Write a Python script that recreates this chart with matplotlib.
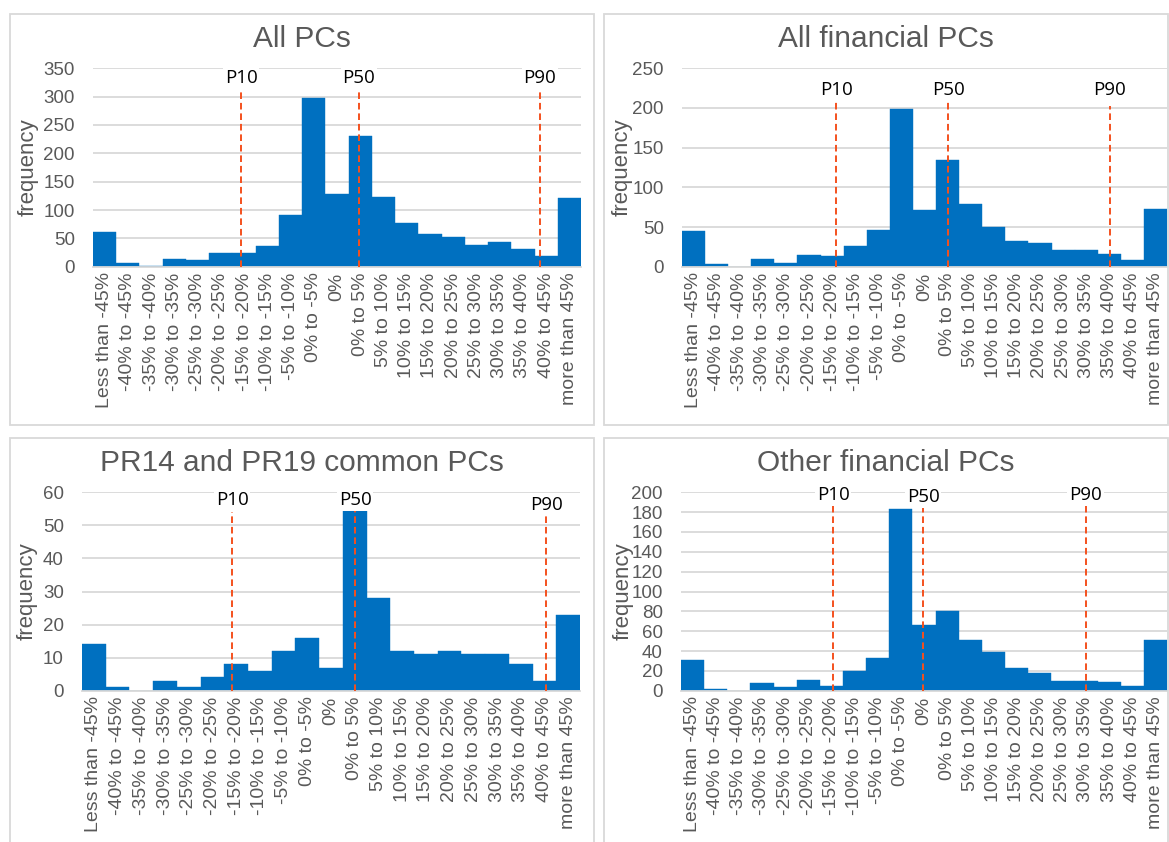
import matplotlib
matplotlib.use("Agg")
import matplotlib.pyplot as plt
from matplotlib.patches import Rectangle

# ---------------- data ----------------
categories = ["Less than -45%", "-40% to -45%", "-35% to -40%", "-30% to -35%",
              "-25% to -30%", "-20% to -25%", "-15% to -20%", "-10% to -15%",
              "-5% to -10%", "0% to -5%", "0%", "0% to 5%", "5% to 10%",
              "10% to 15%", "15% to 20%", "20% to 25%", "25% to 30%",
              "30% to 35%", "35% to 40%", "40% to 45%", "more than 45%"]

titles = ["All PCs", "All financial PCs", "PR14 and PR19 common PCs", "Other financial PCs"]

all_pcs = [62, 6, 2, 14, 11, 25, 25, 37, 91, 298, 129, 231, 123, 77, 58, 52, 38, 43, 32, 18, 121]
all_financial = [45, 3, 0, 10, 5, 15, 14, 26, 46, 199, 72, 135, 79, 50, 33, 30, 21, 21, 16, 8, 73]
common_pcs = [14, 1, 0, 3, 1, 4, 8, 6, 12, 16, 7, 55, 28, 12, 11, 12, 11, 11, 8, 3, 23]
other_financial = [31, 2, 0, 8, 4, 11, 5, 20, 33, 183, 66, 80, 51, 39, 23, 18, 10, 10, 9, 5, 51]

percentile_names = ["P10", "P50", "P90"]
# percentile marker positions (in category-index units)
p_all_pcs = [5.88, 10.93, 18.73]
p_all_financial = [6.17, 11.02, 18.03]
p_common = [5.84, 11.03, 19.08]
p_other = [6.08, 9.97, 16.98]
# top of percentile lines and label baselines (in frequency units)
p_top_all_pcs = [313, 314, 313]
p_lab_all_pcs = [324, 324, 324]
p_top_all_financial = [208, 208, 202]
p_lab_all_financial = [216, 216, 216]
p_top_common = [54, 54.5, 53]
p_lab_common = [56.2, 56.2, 54.7]
p_top_other = [187, 195, 189]
p_lab_other = [192, 190, 192]

yticks_all_pcs = [0, 50, 100, 150, 200, 250, 300, 350]
yticks_all_financial = [0, 50, 100, 150, 200, 250]
yticks_common = [0, 10, 20, 30, 40, 50, 60]
yticks_other = [0, 20, 40, 60, 80, 100, 120, 140, 160, 180, 200]

# ---------------- style / layout ----------------
W, H = 1169, 842
BAR = "#0070C0"
GRID = "#D9D9D9"
TXT = "#595959"
PCOL = "#F4511E"
FONT = ["Liberation Sans", "DejaVu Sans"]
plt.rcParams["font.family"] = FONT

fig = plt.figure(figsize=(W / 100, H / 100), dpi=100)
fig.patch.set_facecolor("white")

panels = [
    dict(vals=all_pcs, p=p_all_pcs, ptop=p_top_all_pcs, plab=p_lab_all_pcs,
         yt=yticks_all_pcs, ax=(93, 68.3, 581, 266.7), border=(10, 14, 594, 425),
         title_y=47, ylab_x=28),
    dict(vals=all_financial, p=p_all_financial, ptop=p_top_all_financial,
         plab=p_lab_all_financial, yt=yticks_all_financial,
         ax=(682, 68.3, 1167, 266.7), border=(604, 14, 1168, 425),
         title_y=47, ylab_x=622),
    dict(vals=common_pcs, p=p_common, ptop=p_top_common, plab=p_lab_common,
         yt=yticks_common, ax=(82, 492.3, 580, 690.7), border=(10, 438, 594, 860),
         title_y=471, ylab_x=27),
    dict(vals=other_financial, p=p_other, ptop=p_top_other, plab=p_lab_other,
         yt=yticks_other, ax=(681, 492.3, 1167, 690.7), border=(604, 438, 1168, 860),
         title_y=471, ylab_x=623),
]

for i, pn in enumerate(panels):
    bx0, by0, bx1, by1 = pn["border"]
    fig.patches.append(Rectangle((bx0 / W, 1 - by1 / H), (bx1 - bx0) / W, (by1 - by0) / H,
                                 transform=fig.transFigure, fill=False,
                                 edgecolor=GRID, linewidth=1.3, zorder=0))
    x0, y0, x1, y1 = pn["ax"]
    ax = fig.add_axes([x0 / W, 1 - y1 / H, (x1 - x0) / W, (y1 - y0) / H])
    xs = list(range(len(categories)))
    ax.bar(xs, pn["vals"], width=1.0, color=BAR, edgecolor=BAR,
           linewidth=0.3, zorder=2)
    ax.set_xlim(-0.5, len(categories) - 0.5)
    ax.set_ylim(pn["yt"][0], pn["yt"][-1])
    ax.set_yticks(pn["yt"])
    ax.set_xticks(xs)
    ax.set_xticklabels(categories, rotation=90, fontsize=14, color=TXT)
    ax.tick_params(axis="x", length=0, pad=4)
    ax.tick_params(axis="y", length=0, pad=13, labelsize=13.5, labelcolor=TXT)
    ax.yaxis.grid(True, color=GRID, linewidth=1.3)
    ax.set_axisbelow(True)
    for s in ["top", "left", "right"]:
        ax.spines[s].set_visible(False)
    ax.spines["bottom"].set_color(GRID)
    ax.spines["bottom"].set_linewidth(1.3)

    for name, px, top, lab in zip(percentile_names, pn["p"], pn["ptop"], pn["plab"]):
        ax.plot([px, px], [0, top], color=PCOL, linestyle=(0, (3.4, 2.0)),
                linewidth=1.4, zorder=3, clip_on=False)
        ax.text(px, lab, name, ha="center", va="baseline", fontsize=13.5,
                family=["Open Sans", "DejaVu Sans"], color="black", zorder=4,
                bbox=dict(facecolor="white", edgecolor="none", pad=1.2),
                clip_on=False)

    fig.text(((bx0 + bx1) / 2) / W, 1 - pn["title_y"] / H, titles[i],
             ha="center", va="baseline", fontsize=21.5, color=TXT)
    fig.text(pn["ylab_x"] / W, 1 - ((y0 + y1) / 2) / H, "frequency",
             rotation=90, ha="center", va="center", fontsize=16, color=TXT)

fig.savefig("out.png", dpi=100, facecolor="white")
